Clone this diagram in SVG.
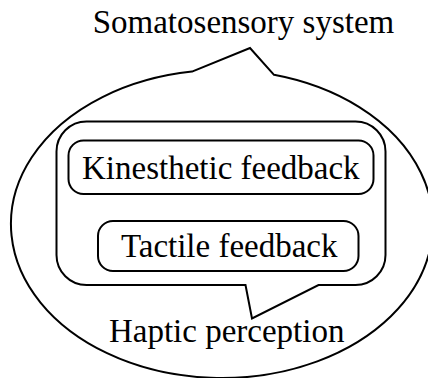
<svg xmlns="http://www.w3.org/2000/svg" width="428" height="378" viewBox="0 0 428 378">
  <style>
    .shape { fill: none; stroke: #000; stroke-width: 2; stroke-linejoin: miter; }
    .label { font-size: 33px; fill: #000; text-anchor: middle; }
  </style>
  <rect width="428" height="378" fill="#fff"/>

  <g font-family="'Liberation Serif', 'DejaVu Serif', serif">
    <!-- Outer oval speech bubble with its tail pointing up to the label -->
    <g id="somatosensory-system">
      <path class="shape" d="M 192 71.6 L 250 48 L 274 74.8 A 211 154 0 1 1 192 71.6 Z"/>
      <text class="label" x="243.5" y="33">Somatosensory system</text>
    </g>

    <!-- Inner rounded bubble with its tail pointing down to the label -->
    <g id="haptic-perception">
      <path class="shape" d="M 86.5 121.5 H 355.5 A 30 30 0 0 1 385.5 151.5 V 255 A 30 30 0 0 1 355.5 285 H 318.5 L 252 318.5 L 245.5 285 H 86.5 A 30 30 0 0 1 56.5 255 V 151.5 A 30 30 0 0 1 86.5 121.5 Z"/>
      <text class="label" x="226.7" y="341.5">Haptic perception</text>
    </g>

    <g id="kinesthetic-feedback">
      <rect class="shape" x="68.5" y="140.5" width="305" height="53.5" rx="15" ry="15"/>
      <text class="label" x="220.8" y="179.3">Kinesthetic feedback</text>
    </g>

    <g id="tactile-feedback">
      <rect class="shape" x="98" y="221" width="260.5" height="50" rx="15" ry="15"/>
      <text class="label" x="229.2" y="256.7">Tactile feedback</text>
    </g>
  </g>
</svg>
